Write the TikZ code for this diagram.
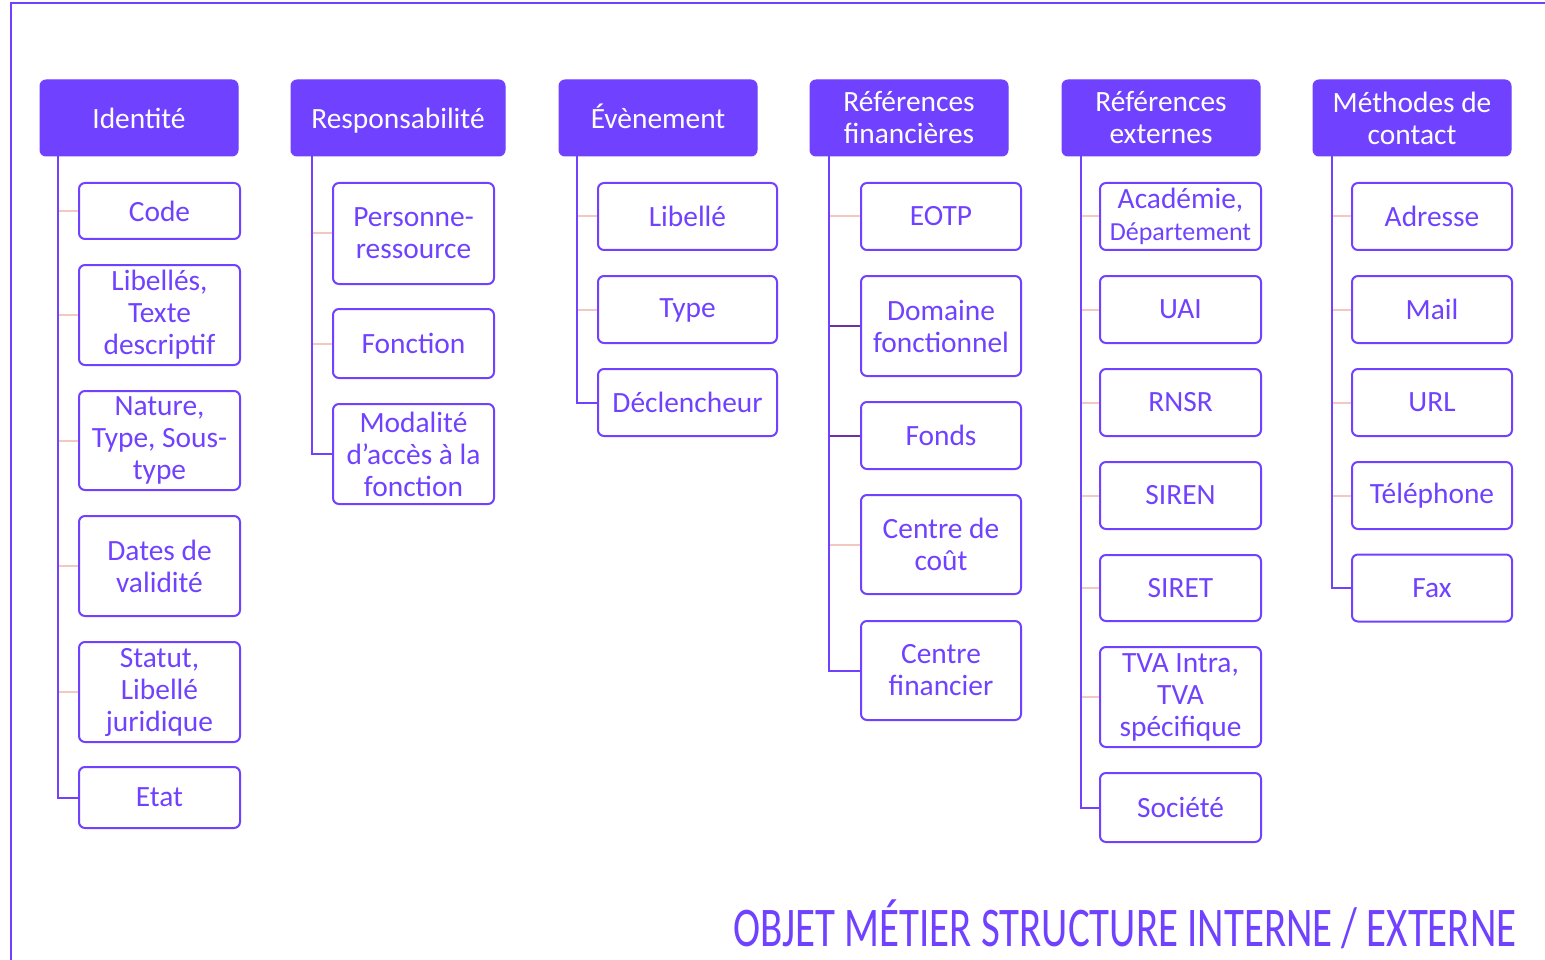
\documentclass[tikz,border=0pt]{standalone}
\usepackage{fontspec}
\setmainfont{Carlito}
\definecolor{pv}{RGB}{112,66,255}
\definecolor{pk}{RGB}{242,200,192}
\definecolor{dp}{RGB}{112,48,160}
\begin{document}
\begin{tikzpicture}[x=1pt,y=-1pt,
  hdr/.style={draw=pv,fill=pv,line width=1pt,rounded corners=6pt,text=white,align=center,
    font=\fontsize{29.4}{32}\selectfont,minimum height=76pt,inner sep=0pt},
  leaf/.style={draw=pv,fill=white,line width=2pt,rounded corners=6pt,text=pv,align=center,
    font=\fontsize{29.4}{32}\selectfont,inner sep=0pt},
  trunk/.style={draw=pv,line width=2pt},
  tick/.style={draw=pk,line width=2pt},
  dtick/.style={draw=dp,line width=2pt}]
\useasboundingbox (0,0) rectangle (1545,960);
\draw[pv,line width=2.5pt] (11,960) -- (11,3) -- (1545,3);
% headers
\node[hdr,minimum width=198pt] (h1) at (139,118) {Identité};
\node[hdr,minimum width=214pt] (h2) at (398,118) {\raisebox{0pt}[0.7em][0pt]{Responsabilité}};
\node[hdr,minimum width=198pt] (h3) at (658,118) {\raisebox{0pt}[0.7em][0pt]{Évènement}};
\node[hdr,minimum width=198pt] (h4) at (909,118) {Références\\financières};
\node[hdr,minimum width=198pt] (h5) at (1161,118) {Références\\externes};
\node[hdr,minimum width=198pt] (h6) at (1412,118) {Méthodes de\\contact};
% column 1
\begin{scope}[every node/.append style={leaf,minimum width=161pt}]
\node[minimum height=56pt] (a1) at (159.5,211) {Code};
\node[minimum height=100pt] (a2) at (159.5,315) {Libellés,\\Texte\\descriptif};
\node[minimum height=99pt] (a3) at (159.5,440.5) {Nature,\\Type, Sous-\\type};
\node[minimum height=100pt] (a4) at (159.5,566) {Dates de\\validité};
\node[minimum height=100pt] (a5) at (159.5,692) {Statut,\\Libellé\\juridique};
\node[minimum height=61pt] (a6) at (159.5,797.5) {Etat};
\end{scope}
% column 2
\begin{scope}[every node/.append style={leaf,minimum width=161pt}]
\node[minimum height=101pt] (b1) at (413.5,233.5) {Personne-\\ressource};
\node[minimum height=69pt] (b2) at (413.5,343.5) {Fonction};
\node[minimum height=100pt] (b3) at (413.5,454) {Modalité\\d’accès à la\\fonction};
\end{scope}
% column 3
\begin{scope}[every node/.append style={leaf,minimum width=179pt,minimum height=67pt}]
\node (c1) at (687.5,216.5) {Libellé};
\node (c2) at (687.5,309.5) {Type\vphantom{l}};
\node (c3) at (687.5,402.5) {Déclencheur};
\end{scope}
% column 4
\begin{scope}[every node/.append style={leaf,minimum width=160pt}]
\node[minimum height=67pt] (d1) at (941,216.5) {EOTP};
\node[minimum height=100pt] (d2) at (941,326) {Domaine\\fonctionnel};
\node[minimum height=67pt] (d3) at (941,435.5) {Fonds};
\node[minimum height=99pt] (d4) at (941,544.5) {Centre de\\coût};
\node[minimum height=99pt] (d5) at (941,670.5) {Centre\\financier};
\end{scope}
% column 5
\begin{scope}[every node/.append style={leaf,minimum width=161pt}]
\node[minimum height=67pt] (e1) at (1180.5,216.5) {Académie,\\{\fontsize{26}{30}\selectfont Département}};
\node[minimum height=67pt] (e2) at (1180.5,309.5) {UAI};
\node[minimum height=67pt] (e3) at (1180.5,402.5) {RNSR};
\node[minimum height=67pt] (e4) at (1180.5,495.5) {SIREN};
\node[minimum height=66pt] (e5) at (1180.5,588) {SIRET};
\node[minimum height=100pt] (e6) at (1180.5,697) {TVA Intra,\\TVA\\spécifique};
\node[minimum height=69pt] (e7) at (1180.5,807.5) {Société};
\end{scope}
% column 6
\begin{scope}[every node/.append style={leaf,minimum width=160pt,minimum height=67pt}]
\node (f1) at (1432,216.5) {Adresse};
\node (f2) at (1432,309.5) {Mail};
\node (f3) at (1432,402.5) {URL};
\node (f4) at (1432,495.5) {Téléphone};
\node (f5) at (1432,588) {Fax};
\end{scope}
% trunks
\coordinate (t1) at (58,156);
\coordinate (t2) at (312,156);
\coordinate (t3) at (577,156);
\coordinate (t4) at (829,156);
\coordinate (t5) at (1081,156);
\coordinate (t6) at (1332,156);
\foreach \n in {a1,a2,a3,a4,a5} \draw[tick] (\n.west) -- (\n.west -| t1);
\foreach \n in {b1,b2} \draw[tick] (\n.west) -- (\n.west -| t2);
\foreach \n in {c1,c2} \draw[tick] (\n.west) -- (\n.west -| t3);
\foreach \n in {d1,d4} \draw[tick] (\n.west) -- (\n.west -| t4);
\foreach \n in {d2,d3} \draw[dtick] (\n.west) -- (\n.west -| t4);
\foreach \n in {e1,e2,e3,e4,e5,e6} \draw[tick] (\n.west) -- (\n.west -| t5);
\foreach \n in {f1,f2,f3,f4} \draw[tick] (\n.west) -- (\n.west -| t6);
\draw[trunk] (t1) |- (a6.west);
\draw[trunk] (t2) |- (b3.west);
\draw[trunk] (t3) |- (c3.west);
\draw[trunk] (t4) |- (d5.west);
\draw[trunk] (t5) |- (e7.west);
\draw[trunk] (t6) |- (f5.west);
% title
\node[anchor=base west,inner sep=0pt,text=pv,font=\fontsize{56}{60}\selectfont] (title) at (733,946)
  {\scalebox{0.73}[1]{OBJET MÉTIER STRUCTURE INTERNE / EXTERNE}};
\end{tikzpicture}
\end{document}
